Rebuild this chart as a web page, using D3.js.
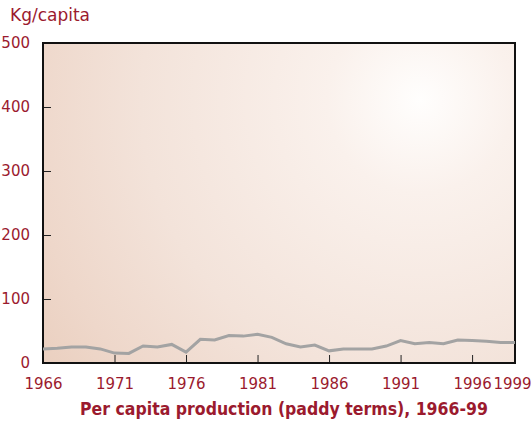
<!DOCTYPE html>
<html>
<head>
<meta charset="utf-8">
<script src="https://cdn.jsdelivr.net/npm/d3@7"></script>
<style>
  body { margin: 0; background: #fff; }
  text { font-family: "DejaVu Sans", sans-serif; fill: #9b1a2e; }
</style>
</head>
<body>
<div class="chart"></div>
<script>
// per capita production, kg/capita
let years = d3.range(1966, 2000);
let values = [22, 23, 25, 25, 22, 15.5, 15, 26.5, 25, 29, 17, 37, 36, 43, 42, 45, 40, 30, 25, 28,
  19, 22, 22, 22, 26.5, 35, 30, 32, 30, 36, 35, 34, 32, 32];
let yTicks = [0, 100, 200, 300, 400, 500];
let xTicks = [1966, 1971, 1976, 1981, 1986, 1991, 1996, 1999];

let margin = { top: 43, right: 16, bottom: 62, left: 43 };
let width = 531 - margin.left - margin.right;
let height = 425 - margin.top - margin.bottom;

let svg = d3
  .select(".chart")
  .append("svg")
  .attr("width", 531)
  .attr("height", 425);

// light spot top right, fading to tan at bottom left
let grad = svg
  .append("defs")
  .append("radialGradient")
  .attr("id", "bg")
  .attr("gradientUnits", "userSpaceOnUse")
  .attr("cx", 420)
  .attr("cy", 100)
  .attr("r", 465);
grad.append("stop").attr("offset", "0%").attr("stop-color", "#fffefd");
grad.append("stop").attr("offset", "20%").attr("stop-color", "#faf1ec");
grad.append("stop").attr("offset", "60%").attr("stop-color", "#f3e3da");
grad.append("stop").attr("offset", "85%").attr("stop-color", "#eed7ca");
grad.append("stop").attr("offset", "100%").attr("stop-color", "#eacfbf");

svg.append("rect")
  .attr("x", margin.left)
  .attr("y", margin.top)
  .attr("width", width)
  .attr("height", height)
  .style("fill", "url(#bg)");

let g = svg.append("g").attr("transform", `translate(${margin.left}, ${margin.top})`);

let xScale = d3.scaleLinear().domain([1966, 1999]).range([0, width]);
let yScale = d3.scaleLinear().domain([0, 500]).range([height, 0]);

// y axis, ticks pointing inwards
let yAxis = d3.axisLeft(yScale).tickValues(yTicks).tickSize(-8).tickPadding(13);
g.append("g")
  .call(yAxis)
  .call((a) => a.select(".domain").remove())
  .call((a) => a.selectAll("line").attr("stroke", "#222").filter((d) => d === 0 || d === 500).remove())
  .call((a) => a.selectAll("text").style("font-size", "15px").attr("fill", null));

let xAxis = d3.axisBottom(xScale).tickValues(xTicks).tickFormat(d3.format("d")).tickSize(-8).tickPadding(15);
g.append("g")
  .attr("transform", `translate(0, ${height})`)
  .call(xAxis)
  .call((a) => a.select(".domain").remove())
  .call((a) => a.selectAll("line").attr("stroke", "#222").filter((d) => d === 1966 || d === 1999).remove())
  .call((a) => a.selectAll("text").style("font-size", "15px").attr("fill", null))
  .call((a) => a.selectAll("text").filter((d) => d === 1999).attr("dx", -3));

// frame
g.append("rect")
  .attr("width", width)
  .attr("height", height)
  .style("fill", "none")
  .style("stroke", "#111")
  .style("stroke-width", 2);

let line = d3
  .line()
  .x((d, i) => xScale(years[i]))
  .y((d) => yScale(d));

g.append("path")
  .datum(values)
  .attr("d", line)
  .style("fill", "none")
  .style("stroke", "#a3a3a3")
  .style("stroke-width", 3);

svg.append("text")
  .attr("x", 10)
  .attr("y", 21)
  .style("font-size", "17px")
  .text("Kg/capita");

svg.append("text")
  .attr("x", 284)
  .attr("y", 415)
  .attr("text-anchor", "middle")
  .style("font-family", "'DejaVu Sans Condensed', 'DejaVu Sans', sans-serif")
  .style("font-size", "17.5px")
  .style("font-weight", "bold")
  .text("Per capita production (paddy terms), 1966-99");
</script>
</body>
</html>
